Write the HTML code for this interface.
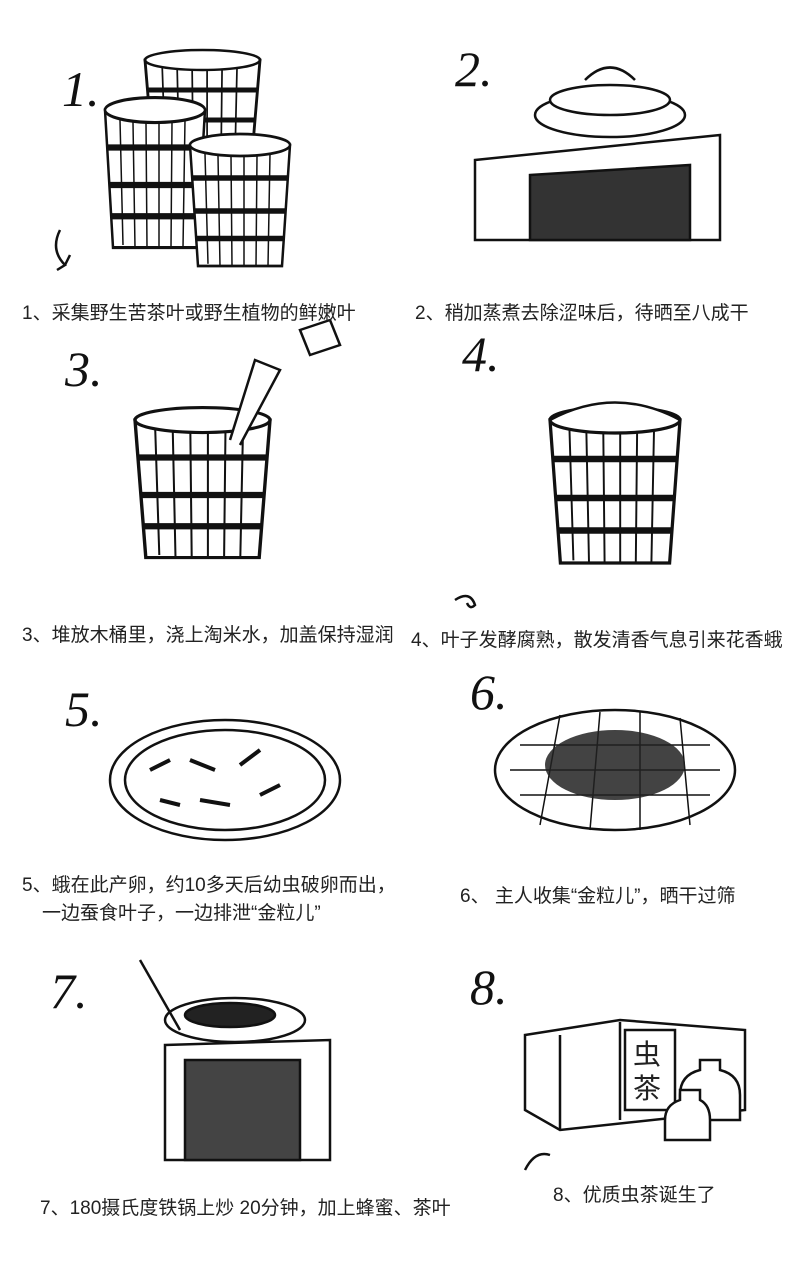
<!DOCTYPE html>
<html><head><meta charset="utf-8"><style>
html,body{margin:0;padding:0;background:#fff;}
body{width:803px;height:1280px;position:relative;overflow:hidden;font-family:"Liberation Sans","Noto Sans CJK SC",sans-serif;color:#222;}
.c{position:absolute;font-size:19px;white-space:nowrap;}
.n{position:absolute;font-family:"Liberation Serif",serif;font-style:italic;font-size:50px;color:#111;}
svg{position:absolute;left:0;top:0;}
</style></head><body>
<svg width="803" height="1280" fill="none" stroke="#111" stroke-width="2.5">
<defs>
<g id="barrel">
<path d="M0 0 L8 110 L92 110 L100 0 Z" fill="#fff"/>
<ellipse cx="50" cy="0" rx="50" ry="10" fill="#fff"/>
<path d="M2 30 H98 M4 60 H96 M6 85 H94" stroke-width="5"/>
<path d="M15 8 L18 108 M28 10 L30 110 M41 10 L42 110 M54 10 L54 110 M67 10 L66 110 M80 8 L78 110" stroke-width="1.5"/>
</g>
</defs>
<use href="#barrel" transform="translate(145,60) scale(1.15,1)"/>
<use href="#barrel" transform="translate(105,110) scale(1.0,1.25)"/>
<use href="#barrel" transform="translate(190,145) scale(1.0,1.1)"/>
<path d="M60 230 q-10 20 5 35 l-8 5 M65 265 l5 -10" />
<path d="M475 160 L720 135 L720 240 L475 240 Z" fill="#fff"/>
<path d="M530 175 L690 165 L690 240 L530 240 Z" fill="#333"/>
<ellipse cx="610" cy="115" rx="75" ry="22" fill="#fff"/>
<ellipse cx="610" cy="100" rx="60" ry="15" fill="#fff"/>
<path d="M585 80 q25 -25 50 0"/>
<use href="#barrel" transform="translate(135,420) scale(1.35,1.25)"/>
<path d="M230 440 L255 360 L280 370 L240 445" fill="#fff"/>
<path d="M300 330 l30 -10 l10 25 l-30 10 z" fill="#fff"/>
<use href="#barrel" transform="translate(550,420) scale(1.3,1.3)"/>
<path d="M550 420 q65 -35 130 0" fill="#fff"/>
<path d="M455 600 q15 -10 20 5 q-5 5 -8 -2"/>
<ellipse cx="225" cy="780" rx="115" ry="60" fill="#fff"/>
<ellipse cx="225" cy="780" rx="100" ry="50"/>
<path d="M150 770 l20 -10 M190 760 l25 10 M240 765 l20 -15 M200 800 l30 5 M260 795 l20 -10 M160 800 l20 5" stroke-width="4"/>
<ellipse cx="615" cy="770" rx="120" ry="60" fill="#fff"/>
<path d="M510 770 H720 M520 745 H710 M520 795 H710 M560 715 L540 825 M600 712 L590 830 M640 712 L640 830 M680 718 L690 825" stroke-width="1.5"/>
<ellipse cx="615" cy="765" rx="70" ry="35" fill="#222" stroke="none" opacity="0.85"/>
<path d="M165 1045 L330 1040 L330 1160 L165 1160 Z" fill="#fff"/>
<path d="M185 1060 L300 1060 L300 1160 L185 1160 Z" fill="#444"/>
<ellipse cx="235" cy="1020" rx="70" ry="22" fill="#fff"/>
<ellipse cx="230" cy="1015" rx="45" ry="12" fill="#222"/>
<path d="M140 960 L180 1030"/>
<path d="M525 1035 L620 1020 L745 1030 L745 1110 L560 1130 L525 1110 Z" fill="#fff"/>
<path d="M560 1035 L560 1130 M620 1022 V1120"/>
<rect x="625" y="1030" width="50" height="80" fill="#fff"/>
<path d="M700 1060 h20 v10 q20 5 20 25 v25 h-60 v-25 q0 -20 20 -25 z" fill="#fff"/>
<path d="M680 1090 h20 v10 q10 5 10 20 v20 h-45 v-20 q0 -15 15 -20 z" fill="#fff"/>
<path d="M525 1170 q10 -20 25 -15"/>
</svg>
<div class="n" style="left:62px;top:60px">1.</div>
<div class="n" style="left:455px;top:40px">2.</div>
<div class="n" style="left:65px;top:340px">3.</div>
<div class="n" style="left:462px;top:325px">4.</div>
<div class="n" style="left:65px;top:680px">5.</div>
<div class="n" style="left:470px;top:663px">6.</div>
<div class="n" style="left:50px;top:962px">7.</div>
<div class="n" style="left:470px;top:958px">8.</div>
<div class="c" style="left:22px;top:298px">1、采集野生苦茶叶或野生植物的鲜嫩叶</div>
<div class="c" style="left:415px;top:298px">2、稍加蒸煮去除涩味后，待晒至八成干</div>
<div class="c" style="left:22px;top:620px">3、堆放木桶里，浇上淘米水，加盖保持湿润</div>
<div class="c" style="left:411px;top:625px">4、叶子发酵腐熟，散发清香气息引来花香蛾</div>
<div class="c" style="left:22px;top:870px">5、蛾在此产卵，约10多天后幼虫破卵而出，</div>
<div class="c" style="left:42px;top:898px">一边蚕食叶子，一边排泄“金粒儿”</div>
<div class="c" style="left:460px;top:881px">6、 主人收集“金粒儿”，晒干过筛</div>
<div class="c" style="left:40px;top:1193px">7、180摄氏度铁锅上炒 20分钟，加上蜂蜜、茶叶</div>
<div class="c" style="left:553px;top:1180px">8、优质虫茶诞生了</div>
<div class="c" style="left:633px;top:1038px;font-size:28px;line-height:34px;white-space:normal;width:30px">虫茶</div>
</body></html>
